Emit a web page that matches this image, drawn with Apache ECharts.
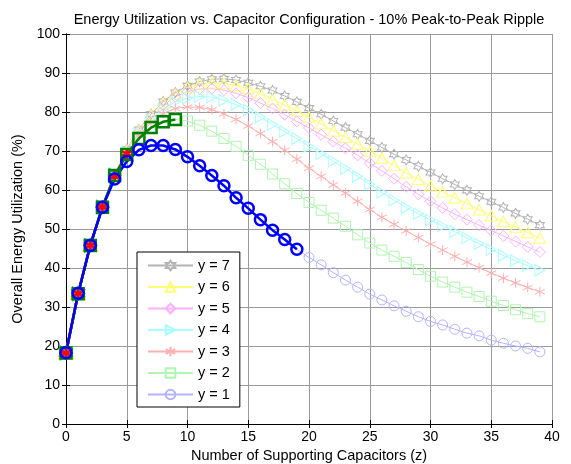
<!DOCTYPE html>
<html><head><meta charset="utf-8">
<script src="https://cdn.jsdelivr.net/npm/echarts@6/dist/echarts.min.js"></script>
<style>html,body{margin:0;padding:0;background:#fff}#c{width:571px;height:464px}</style>
</head><body><div id="c"></div>
<script>
const zValues = [0,1,2,3,4,5,6,7,8,9,10,11,12,13,14,15,16,17,18,19,20,21,22,23,24,25,26,27,28,29,30,31,32,33,34,35,36,37,38,39];
const util7 = [18.3,33.5,45.8,55.6,64.0,70.5,75.5,79.5,82.7,85.0,86.7,87.8,88.4,88.5,88.2,87.5,86.6,85.5,84.1,82.6,81.0,79.4,77.7,76.0,74.3,72.6,70.9,69.2,67.7,66.1,64.5,62.9,61.4,59.9,58.4,57.0,55.5,54.0,52.5,51.0];
const util6 = [18.2,33.4,45.8,55.6,64.0,70.3,75.2,79.2,82.3,84.6,86.3,87.2,87.5,87.3,86.8,86.0,84.7,83.2,81.8,80.3,78.7,77.0,75.2,73.5,71.8,70.0,68.2,66.3,64.4,62.7,61.1,59.5,58.0,56.5,54.9,53.4,51.9,50.5,49.1,47.7];
const util5 = [18.2,33.4,45.8,55.6,63.9,70.0,74.8,78.7,81.7,83.9,85.3,85.9,86.0,85.6,84.8,83.7,82.3,80.9,79.3,77.6,75.9,74.2,72.4,70.7,68.9,66.9,64.9,62.9,60.8,58.9,57.1,55.4,53.8,52.4,51.0,49.6,48.2,46.8,45.4,44.1];
const util4 = [18.2,33.4,45.8,55.6,63.8,69.8,74.4,78.1,80.8,82.6,83.6,84.0,83.8,83.0,81.9,80.5,78.7,76.8,75.0,73.2,71.2,69.3,67.4,65.5,63.5,61.5,59.4,57.4,55.5,53.9,52.3,50.8,49.3,47.7,46.2,44.7,43.2,41.9,40.6,39.4];
const util3 = [18.2,33.5,45.8,55.7,63.5,69.3,73.9,77.3,79.6,80.9,81.3,81.2,80.6,79.5,78.1,76.4,74.5,72.4,70.2,67.9,65.6,63.5,61.3,59.2,57.1,55.0,53.0,51.2,49.5,47.8,46.1,44.6,43.0,41.5,40.1,38.7,37.4,36.2,35.0,33.9];
const util2 = [18.2,33.4,45.8,55.6,63.7,69.1,73.2,76.0,77.5,78.1,77.7,76.6,75.1,73.2,71.2,68.9,66.6,64.1,61.6,59.1,56.8,54.8,52.8,50.7,48.5,46.4,44.6,43.0,41.4,39.6,37.9,36.4,35.1,33.8,32.7,31.5,30.4,29.3,28.3,27.5];
const util1 = [18.3,33.5,45.8,55.6,62.8,67.3,70.3,71.4,71.4,70.4,68.5,66.2,63.7,61.1,58.0,55.3,52.4,49.7,47.3,44.8,42.7,40.8,38.8,36.9,35.1,33.3,31.8,30.3,28.9,27.5,26.3,25.4,24.3,23.3,22.6,21.5,20.7,20.0,19.4,18.5];
const seriesNames = ['y = 7','y = 6','y = 5','y = 4','y = 3','y = 2','y = 1'];
const seriesValues = [util7, util6, util5, util4, util3, util2, util1];
const boldCounts = [2,3,4,5,6,10,20];
const xTicks = [0,5,10,15,20,25,30,35,40];
const yTicks = [0,10,20,30,40,50,60,70,80,90,100];

const fadedColors = ['#b4b4b4','#ffff70','#ffb0ff','#a8ffff','#ffb0b0','#b0f5b0','#b4b4ff'];
const boldColors = ['#808080','#d8d800','#ff00ff','#00c8c8','#ff0000','#008000','#0000ff'];
const hexagram = 'path://M0,-100 L28.9,-50 L86.6,-50 L57.7,0 L86.6,50 L28.9,50 L0,100 L-28.9,50 L-86.6,50 L-57.7,0 L-86.6,-50 L-28.9,-50 Z';
const asterisk = 'path://M0,-100 L0,100 M-86.6,-50 L86.6,50 M-86.6,50 L86.6,-50';
const triUp = 'path://M50,0 L100,86.6 L0,86.6 Z';
const diamond = 'path://M50,0 L100,50 L50,100 L0,50 Z';
const triRight = 'path://M0,0 L86.6,50 L0,100 Z';
const square = 'path://M0,0 L100,0 L100,100 L0,100 Z';
const symbols = [hexagram, triUp, diamond, triRight, asterisk, square, 'circle'];
const sizes = [[9,10],[12,10.4],[11,11],[10,11.5],[10,10],[10,10],[10,10]];
const boldSizes = [[11,11],[12,10.4],[11,11],[10,11.5],[11,11],[11,11],[11,11]];

const FONT = 'Liberation Sans, Arial, sans-serif';
const series = [];
seriesValues.forEach((vals, i) => {
  series.push({
    name: seriesNames[i], type: 'line',
    data: zValues.map((z, k) => [z, vals[k]]),
    symbol: symbols[i], symbolSize: sizes[i], showSymbol: true,
    lineStyle: {color: fadedColors[i], width: 1},
    itemStyle: {color: 'rgba(255,255,255,0)', borderColor: fadedColors[i], borderWidth: 1},
    emphasis: {disabled: true}, z: 2
  });
});
seriesValues.forEach((vals, i) => {
  series.push({
    name: 'bold ' + seriesNames[i], type: 'line',
    data: zValues.slice(0, boldCounts[i]).map((z, k) => [z, vals[k]]),
    symbol: symbols[i], symbolSize: boldSizes[i], showSymbol: true,
    lineStyle: {color: boldColors[i], width: 2.5},
    itemStyle: {color: 'rgba(255,255,255,0)', borderColor: boldColors[i], borderWidth: 2.5},
    emphasis: {disabled: true}, z: 3
  });
});

const chart = echarts.init(document.getElementById('c'), null, {renderer: 'canvas'});
const axisCommon = {
  axisLine: {show: true, lineStyle: {color: '#000', width: 1}},
  axisTick: {show: true, inside: true, length: 4, lineStyle: {color: '#000'}},
};
chart.setOption({
  animation: false,
  backgroundColor: '#fff',
  title: {text: 'Energy Utilization vs. Capacitor Configuration - 10% Peak-to-Peak Ripple',
    left: 304, textAlign: 'center', top: 7,
    textStyle: {fontFamily: FONT, fontSize: 14.5, fontWeight: 'normal', color: '#000'}},
  grid: {left: 66, right: 19, top: 34, bottom: 40, outerBoundsMode: 'none', containLabel: false},
  legend: {
    data: seriesNames, orient: 'vertical', left: 137, top: 252,
    itemWidth: 45, itemHeight: 12, itemGap: 4.5,
    padding: [5, 10, 4, 10],
    backgroundColor: '#fff', borderColor: '#000', borderWidth: 1,
    textStyle: {fontFamily: FONT, fontSize: 14.5, color: '#000', lineHeight: 17},
    selectedMode: false
  },
  xAxis: [
    Object.assign({type: 'value', min: xTicks[0], max: xTicks[xTicks.length-1], interval: xTicks[1]-xTicks[0],
      name: 'Number of Supporting Capacitors (z)', nameLocation: 'middle', nameGap: 24,
      nameTextStyle: {fontFamily: FONT, fontSize: 14.5, color: '#000'},
      axisLabel: {fontFamily: FONT, fontSize: 14, color: '#000', margin: 6},
      splitLine: {show: true, lineStyle: {color: '#9a9a9a', width: 1}}}, axisCommon),
    Object.assign({type: 'value', position: 'top', min: 0, max: 40, interval: 5,
      axisLabel: {show: false}, splitLine: {show: false}}, axisCommon)
  ],
  yAxis: [
    Object.assign({type: 'value', min: yTicks[0], max: yTicks[yTicks.length-1], interval: yTicks[1]-yTicks[0],
      name: 'Overall Energy Utilization (%)', nameLocation: 'middle', nameGap: 33,
      nameTextStyle: {fontFamily: FONT, fontSize: 14.5, color: '#000'},
      axisLabel: {fontFamily: FONT, fontSize: 14, color: '#000', margin: 6},
      splitLine: {show: true, lineStyle: {color: '#9a9a9a', width: 1}}}, axisCommon),
    Object.assign({type: 'value', position: 'right', min: 0, max: 100, interval: 10,
      axisLabel: {show: false}, splitLine: {show: false}}, axisCommon)
  ],
  series: series
});
</script></body></html>
